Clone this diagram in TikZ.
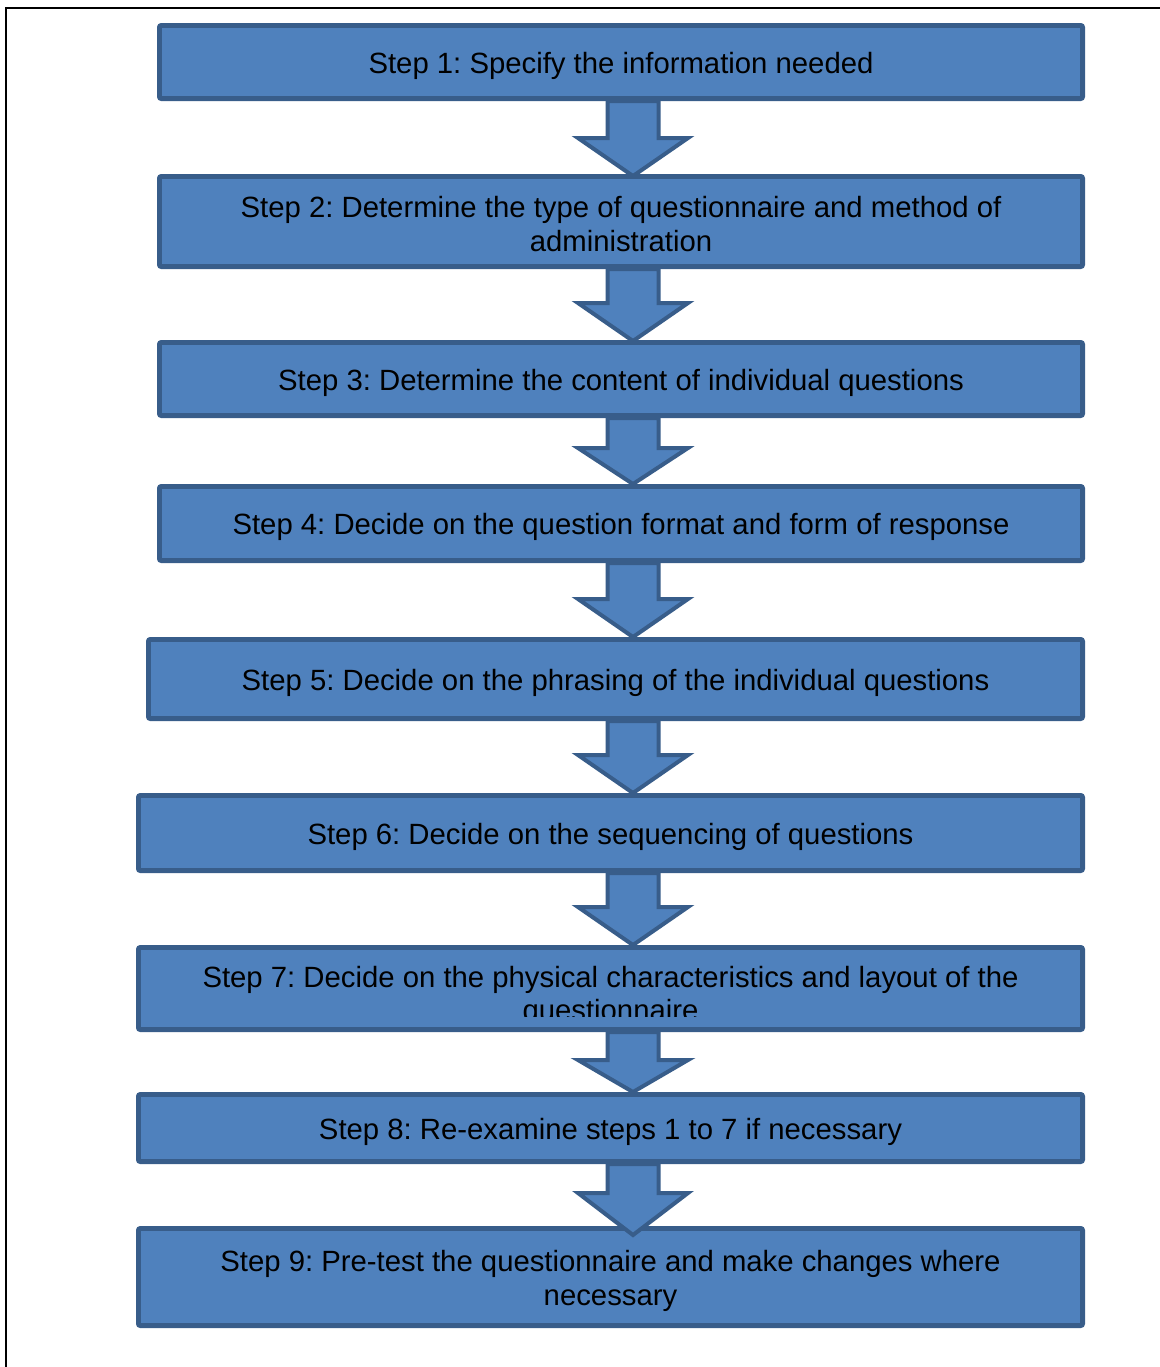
\documentclass[tikz,border=0pt]{standalone}
\usepackage{fontspec}
\setmainfont{Liberation Sans}
\usetikzlibrary{calc}
\frenchspacing
\definecolor{boxfill}{HTML}{4F81BD}
\definecolor{boxline}{HTML}{385D8A}
\tikzset{
  stagebox/.style 2 args={draw=boxline, fill=boxfill, line width=2.4pt,
    rounded corners=1pt, inner sep=0pt, align=center,
    text height=14.2pt, text depth=3.1pt,
    minimum width={0.5pt*(#1-4.8)}, minimum height={0.5pt*(#2-4.8)},
    font=\fontsize{14.65}{16.8}\selectfont},
  twolines/.style 2 args={text height=#1, text depth=#2},
  stagetext/.style={inner sep=0pt, align=center,
    font=\fontsize{14.65}{16.8}\selectfont},
  blockarrow/.style={draw=boxline, fill=boxfill, line width=2pt},
  frameline/.style={draw=black, line width=1pt}
}
% down arrow between two stages: #1 upper, #2 lower, #3 tip overshoot, #4 head length
\newcommand\stagearrow[4]{%
  \draw[blockarrow]
    ($(#1.south -| ax)+(-25.5,0)$) --
    ($(#2.north -| ax)+(-25.5,#3-#4)$) --
    ($(#2.north -| ax)+(-55,#3-#4)$) --
    ($(#2.north -| ax)+(0,#3)$) --
    ($(#2.north -| ax)+(55,#3-#4)$) --
    ($(#2.north -| ax)+(25.5,#3-#4)$) --
    ($(#1.south -| ax)+(25.5,0)$) -- cycle;
}
\begin{document}
\begin{tikzpicture}[x=0.5pt, y=-0.5pt]
  \clip (0,0) rectangle (1160,1367);
  \fill[white] (0,0) rectangle (1160,1367);
  % page frame (top and left edges)
  \draw[frameline] (1170,7.5) -- (6,7.5) -- (6,1380);
  \coordinate (ax) at (633,0);

  \node[stagebox={928}{78}] (b1) at (621,62) {Step 1: Specify the information needed};
  \node[stagebox={928}{95}, twolines={29.5pt}{0pt}] (b2) at (621,221.5) {Step 2: Determine the type of questionnaire and method of\\administration};
  \node[stagebox={928}{78}] (b3) at (621,379) {Step 3: Determine the content of individual questions};
  \node[stagebox={928}{79}] (b4) at (621,523.5) {Step 4: Decide on the question format and form of response};
  \node[stagebox={939}{84}] (b5) at (615.5,679) {Step 5: Decide on the phrasing of the individual questions};
  \node[stagebox={949}{80}] (b6) at (610.5,833) {Step 6: Decide on the sequencing of questions};
  \node[stagebox={949}{87}] (b7) at (610.5,988.5) {};
  \begin{scope}
    \clip (136,945) rectangle (1085,1016);
    \node[stagetext] (t7) at (610.5,996.5) {Step 7: Decide on the physical characteristics and layout of the\\questionnaire};
  \end{scope}
  \node[stagebox={949}{72}] (b8) at (610.5,1128) {Step 8: Re-examine steps 1 to 7 if necessary};
  \node[stagebox={949}{102}, twolines={31.5pt}{3.1pt}] (b9) at (610.5,1277) {Step 9: Pre-test the questionnaire and make changes where\\necessary};

  \stagearrow{b1}{b2}{2}{38}
  \stagearrow{b2}{b3}{1}{38}
  \stagearrow{b3}{b4}{0}{36}
  \stagearrow{b4}{b5}{0}{38}
  \stagearrow{b5}{b6}{0}{38}
  \stagearrow{b6}{b7}{0}{38}
  \stagearrow{b7}{b8}{0}{32}
  \stagearrow{b8}{b9}{9}{42}
\end{tikzpicture}
\end{document}
